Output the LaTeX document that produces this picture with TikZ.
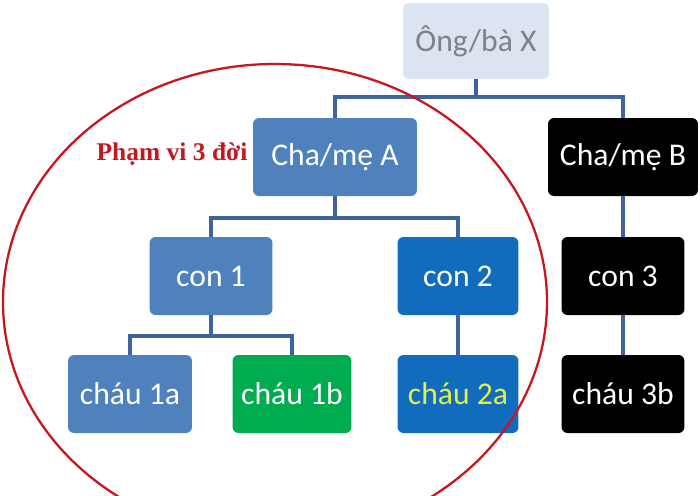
\documentclass[tikz,border=0pt]{standalone}
\usepackage{fontspec}
\setmainfont{Carlito}
\newfontfamily\serifbold{Liberation Serif}
\usepackage{xcolor}
\usepackage{tikz}

\definecolor{paleblue}{RGB}{219,228,240}
\definecolor{greytext}{RGB}{125,130,138}
\definecolor{boxblue}{RGB}{79,129,189}
\definecolor{brightblue}{RGB}{18,108,190}
\definecolor{boxgreen}{RGB}{0,172,80}
\definecolor{linkblue}{RGB}{62,100,154}
\definecolor{ringred}{RGB}{200,22,32}
\definecolor{lemon}{RGB}{228,242,70}

\begin{document}
\begin{tikzpicture}[x=0.02cm, y=-0.02cm,
    box/.style={rounded corners=0.12cm, minimum height=1.56cm, text=white,
                font=\fontsize{18}{20}\selectfont, inner sep=0pt},
    link/.style={draw=linkblue, line width=2pt}]
  \useasboundingbox (0,0) rectangle (700,495);

  % generation 1 and 2
  \node[box, fill=paleblue, text=greytext, minimum width=2.92cm, minimum height=1.52cm] (ongba) at (476,41) {Ông/bà X};
  \node[box, fill=boxblue, minimum width=3.28cm] (chameA) at (335,157) {Cha/mẹ A};
  \node[box, fill=black, minimum width=3.0cm] (chameB) at (623,157) {Cha/mẹ B};

  % generation 3
  \node[box, fill=boxblue, minimum width=2.46cm] (con1) at (211,276) {con 1};
  \node[box, fill=brightblue, minimum width=2.42cm] (con2) at (458,276) {con 2};
  \node[box, fill=black, minimum width=2.46cm] (con3) at (623,276) {con 3};

  % generation 4
  \node[box, fill=boxblue, minimum width=2.48cm] (chau1a) at (130,394) {cháu 1a};
  \node[box, fill=boxgreen, minimum width=2.38cm] (chau1b) at (292,394) {cháu 1b};
  \node[box, fill=brightblue, text=lemon, minimum width=2.42cm] (chau2a) at (458,394) {cháu 2a};
  \node[box, fill=black, minimum width=2.46cm] (chau3b) at (623,394) {cháu 3b};

  \coordinate (busX) at (476,97);
  \coordinate (busA) at (335,218);
  \coordinate (bus1) at (211,336);

  \draw[link] (ongba.south) -- (busX) -| (chameA.north);
  \draw[link] (busX) -| (chameB.north);
  \draw[link] (chameA.south) -- (busA) -| (con1.north);
  \draw[link] (busA) -| (con2.north);
  \draw[link] (chameB.south) -- (con3.north);
  \draw[link] (con1.south) -- (bus1) -| (chau1a.north);
  \draw[link] (bus1) -| (chau1b.north);
  \draw[link] (con2.south) -- (chau2a.north);
  \draw[link] (con3.south) -- (chau3b.north);

  % three generations ring
  \draw[ringred, line width=1.3pt] (275,302) ellipse (272 and 238);
  \node[text=ringred, font=\serifbold\bfseries\fontsize{14.5}{16}\selectfont] (pham) at (172,154) {Phạm vi 3 đời};
\end{tikzpicture}
\end{document}
